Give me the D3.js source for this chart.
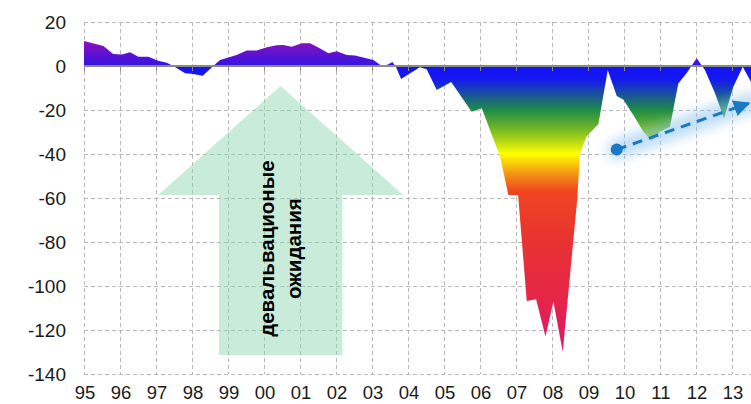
<!DOCTYPE html>
<html><head><meta charset="utf-8">
<script src="https://cdn.jsdelivr.net/npm/d3@7"></script>
<style>body{margin:0;background:#fff}svg{display:block}</style>
</head><body>
<script>
// ---- data ----
const years = [1995.00,1995.54,1995.81,1996.05,1996.28,1996.51,1996.79,1997.06,1997.30,1997.48,1997.81,1997.99,1998.30,1998.59,1998.78,1999.24,1999.52,1999.80,2000.08,2000.35,2000.54,2000.77,2001.05,2001.28,2001.56,2001.79,2002.02,2002.30,2002.53,2002.81,2003.04,2003.31,2003.57,2003.67,2003.81,2004.06,2004.33,2004.52,2004.80,2005.20,2005.77,2006.05,2006.56,2006.79,2007.06,2007.30,2007.56,2007.82,2008.04,2008.30,2008.70,2008.78,2008.96,2009.14,2009.29,2009.55,2009.80,2009.98,2010.26,2010.54,2010.77,2011.00,2011.28,2011.51,2011.74,2012.02,2012.25,2012.53,2012.78,2013.04,2013.30,2013.55];
const values = [11.4,9.1,5.5,5.2,6.2,4.2,4.2,2.4,1.5,0,-3.3,-3.5,-4.4,0,2.7,5,7,7,8.5,9.4,9.5,8.8,10.3,10.3,7.9,5.8,6.7,5,4.8,3.6,2.7,-0.4,1.8,-0.6,-5.9,-3.3,-0.6,-1.5,-10.9,-7.3,-20.8,-19.2,-41.2,-58.6,-58.6,-106.8,-106,-123,-107,-129.9,-61,-39.7,-32,-29,-26.5,-1.8,-13.6,-15.2,-22.3,-29.9,-34,-29.9,-27.6,-7.9,-3.3,3.5,-1.8,-12.4,-23.8,-9.4,-0.3,-7.9];
const yTicks = [20,0,-20,-40,-60,-80,-100,-120,-140];
const xTickYears = d3.range(1995,2014);
const xTickLabels = ["95","96","97","98","99","00","01","02","03","04","05","06","07","08","09","10","11","12","13"];
const trend = [[2009.8,-38],[2013.55,-16.5]];
const bigArrow = [[2000.46,-9.1],[2003.87,-58.6],[2002.18,-58.6],[2002.18,-131.4],[1998.75,-131.4],[1998.75,-58.6],[1997.06,-58.6]];
const arrowText = ["девальвационые","ожидания"];
const gradStops = [[12,"#9010b8"],[0,"#3414e4"],[-0.5,"#1414f8"],[-6,"#1418f0"],[-20,"#1e8c46"],[-31,"#8cc41e"],[-40,"#ffff00"],[-48,"#f5a012"],[-57,"#f04420"],[-80,"#e83232"],[-105,"#e62648"],[-130,"#e0146a"]];

// ---- layout ----
const W = 751, H = 404;
const x = d3.scaleLinear().domain([1995, 2013.53]).range([84, 751]);
const y = d3.scaleLinear().domain([20, -140]).range([22, 374]);
const svg = d3.select("body").append("svg").attr("width", W).attr("height", H);
const defs = svg.append("defs");

const grad = defs.append("linearGradient").attr("id","g").attr("gradientUnits","userSpaceOnUse")
  .attr("x1",0).attr("x2",0).attr("y1",y(12)).attr("y2",y(-130));
gradStops.forEach(s => grad.append("stop").attr("offset", (y(s[0])-y(12))/(y(-130)-y(12))).attr("stop-color", s[1]));

const blur = defs.append("filter").attr("id","blur").attr("x","-20%").attr("y","-50%").attr("width","140%").attr("height","200%");
blur.append("feGaussianBlur").attr("stdDeviation",6);

defs.append("marker").attr("id","ah").attr("viewBox","0 0 10 10").attr("refX",9).attr("refY",5)
  .attr("markerWidth",5.5).attr("markerHeight",5.5).attr("orient","auto").attr("markerUnits","strokeWidth")
  .append("path").attr("d","M0,0L10,5L0,10Z").attr("fill","#1a78c4");

// gridlines
const grid = svg.append("g").attr("stroke","#b8b8b8").attr("stroke-width",1).attr("stroke-dasharray","4,3");
yTicks.forEach(t => grid.append("line").attr("x1",84).attr("x2",W).attr("y1",Math.round(y(t))+0.5).attr("y2",Math.round(y(t))+0.5));
xTickYears.concat([2014]).forEach(t => grid.append("line").attr("x1",Math.round(x(t))+0.5).attr("x2",Math.round(x(t))+0.5).attr("y1",y(20)).attr("y2",y(-140)));

// big green arrow
svg.append("path").attr("d", d3.line().x(d=>x(d[0])).y(d=>y(d[1]))(bigArrow)+"Z")
  .attr("fill","#8fd6b0").attr("opacity",0.48);

// area
const data = years.map((yr,i)=>[yr, values[i]]);
svg.append("path").datum(data)
  .attr("d", d3.area().x(d=>x(d[0])).y0(y(0)).y1(d=>y(d[1])))
  .attr("fill","url(#g)");

// zero axis with ticks
svg.append("line").attr("x1",84).attr("x2",W).attr("y1",y(0)).attr("y2",y(0)).attr("stroke","#8a8a8a").attr("stroke-width",2);
xTickYears.forEach(t => svg.append("line").attr("x1",Math.round(x(t))+0.5).attr("x2",Math.round(x(t))+0.5)
  .attr("y1",y(0)).attr("y2",y(0)+5).attr("stroke","#8a8a8a").attr("stroke-width",1));

// trend arrow
const tp = trend.map(d=>[x(d[0]),y(d[1])]);
svg.append("line").attr("x1",tp[0][0]).attr("y1",tp[0][1]).attr("x2",tp[1][0]).attr("y2",tp[1][1])
  .attr("stroke","#8cc4ee").attr("stroke-width",20).attr("stroke-linecap","round").attr("opacity",0.55).attr("filter","url(#blur)");
svg.append("line").attr("x1",tp[0][0]).attr("y1",tp[0][1]).attr("x2",tp[1][0]-3).attr("y2",tp[1][1]+1)
  .attr("stroke","#1a78c4").attr("stroke-width",3).attr("stroke-dasharray","10,7").attr("marker-end","url(#ah)");
svg.append("circle").attr("cx",tp[0][0]).attr("cy",tp[0][1]).attr("r",6).attr("fill","#1a78c4");

// arrow text
const tx = x(2000.46), ty = y(-83);
const tg = svg.append("g").attr("transform",`translate(${tx},${ty}) rotate(-90)`);
arrowText.forEach((s,i)=> tg.append("text").attr("x",0).attr("y", i*27 - 6.5)
  .attr("text-anchor","middle").attr("font-family","Liberation Sans, Arial, sans-serif")
  .attr("font-weight","bold").attr("font-size",20.5).attr("fill","#000").text(s));

// axis labels
yTicks.forEach(t => svg.append("text").attr("x",66).attr("y",y(t)).attr("dy","0.36em").attr("text-anchor","end")
  .attr("font-family","Liberation Sans, Arial, sans-serif").attr("font-size",19).attr("fill","#1a1a1a").text(t));
xTickYears.forEach((t,i) => svg.append("text").attr("x",x(t)+1).attr("y",399).attr("text-anchor","middle")
  .attr("font-family","Liberation Sans, Arial, sans-serif").attr("font-size",18.5).attr("fill","#1a1a1a").text(xTickLabels[i]));
</script>
</body></html>
